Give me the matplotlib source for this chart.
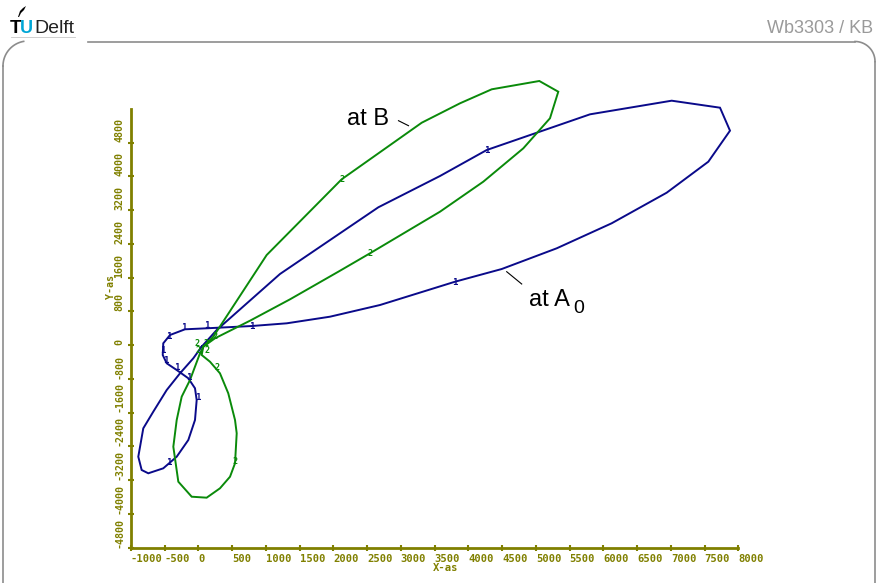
import matplotlib
matplotlib.use("Agg")
import matplotlib.pyplot as plt
import numpy as np

# ---------------- data ----------------
blue_x = [50, 273, 1210, 2667, 3581, 4273, 5803, 7013, 7729, 7877, 7556, 6939,
          6124, 5310, 4495, 3803, 2692, 1951, 1310, 791, 124, -197, -419, -519,
          -527, -468, -320, -148, -49, -24, -49, -148, -320, -519, -741, -839,
          -889, -815, -667, -468, -271, -74, 50]
blue_y = [-40, 356, 1683, 3264, 4006, 4622, 5468, 5791, 5625, 5080, 4345, 3610,
          2885, 2292, 1801, 1500, 948, 671, 514, 450, 396, 372, 237, 40,
          -237, -434, -593, -789, -1026, -1304, -1778, -2252, -2648, -2923, -3041, -2963,
          -2648, -1975, -1581, -1067, -671, -315, -40]

green_x = [74, 222, 1013, 2124, 3310, 3877, 4347, 5052, 5333, 5210, 4815, 4222,
           3581, 2544, 2074, 1359, 766, 247, 74, 50, 173, 321, 444, 544, 569,
           544, 470, 321, 124, -98, -296, -370, -320, -246, -123, 25, 74]
green_y = [-40, 197, 2133, 3928, 5269, 5729, 6061, 6258, 6004, 5374, 4662, 3871,
           3160, 2174, 1737, 1083, 576, 159, -40, -237, -396, -671, -1145, -1778, -2093,
           -2804, -3122, -3397, -3619, -3596, -3240, -2411, -1778, -1225, -830, -197, -40]

blue_tick_x = [-434, -212, 129, 795, 3803, 4277, -523, -479, -316, -138, -4, -434]
blue_tick_y = [190, 403, 474, 450, 1493, 4622, -119, -356, -545, -759, -1256, -2797]

green_tick_x = [2124, 2544, 247, 277, 544, -19, 110, -4, 125]
green_tick_y = [3928, 2174, 190, -545, -2773, 47, 47, -142, -142]

x_ticks = list(range(-1000, 8001, 500))
y_ticks = list(range(-4800, 4801, 800))
x_labels = [str(v) for v in x_ticks]
y_labels = [str(v) for v in y_ticks]

OLIVE = "#808000"
BLUE = "#0a0a8a"
GREEN = "#0a8a0a"

fig = plt.figure(figsize=(8.78, 5.83), dpi=100)

# ---------------- slide decoration (pixel coordinates) ----------------
bg = fig.add_axes([0, 0, 1, 1])
bg.set_xlim(0, 878)
bg.set_ylim(583, 0)
bg.axis("off")

FRAME = "#8c8c8c"
bg.plot([88, 855], [41.5, 41.5], color=FRAME, lw=1.2)
t = np.linspace(0, np.pi / 2, 30)
bg.plot(855 + 20 * np.cos(t), 61.5 - 20 * np.sin(t), color=FRAME, lw=1.2)
bg.plot([875, 875], [61.5, 583], color=FRAME, lw=1.2)
t2 = np.linspace(np.radians(100), np.pi, 30)
bg.plot(28 + 25 * np.cos(t2), 66 - 25 * np.sin(t2), color=FRAME, lw=1.2)
bg.plot([3, 3], [66, 583], color=FRAME, lw=1.2)

bg.text(873, 33, "Wb3303 / KB", ha="right", va="baseline", fontsize=13,
        color="#9a9a9a", family="Liberation Sans")
bg.text(9.5, 33, "T", ha="left", va="baseline", fontsize=13.5, weight="bold",
        color="black", family="Liberation Sans")
bg.text(20, 33, "U", ha="left", va="baseline", fontsize=13, weight="bold",
        color="#00a6d6", family="Liberation Sans")
bg.text(34, 33, "Delft", ha="left", va="baseline", fontsize=14,
        color="#222222", family="Liberation Sans")
bg.fill([18, 20, 23, 26, 24, 21, 19], [17, 11, 8, 6, 10, 13, 17], color="black", lw=0)
bg.plot([11, 75], [37, 37], color="#c8c8c8", lw=0.6)

bg.plot([398.5, 408.5], [120.7, 125.7], color="black", lw=0.8)
bg.plot([506.7, 521.7], [271.7, 284], color="black", lw=0.8)
bg.text(347, 125, "at B", ha="left", va="baseline", fontsize=17,
        family="Liberation Sans", color="black")
bg.text(529, 306, "at A", ha="left", va="baseline", fontsize=17,
        family="Liberation Sans", color="black")
bg.text(573, 313, "0", ha="left", va="baseline", fontsize=14,
        family="Liberation Sans", color="black")

# ---------------- chart ----------------
ax = fig.add_axes([130.8 / 878, (583 - 547.5) / 583, 607.5 / 878, 438.75 / 583])
ax.patch.set_visible(False)
ax.set_xlim(-1000, 8000)
ax.set_ylim(-4800, 5600)
for s in ("top", "right"):
    ax.spines[s].set_visible(False)
for s in ("left", "bottom"):
    ax.spines[s].set_color(OLIVE)
    ax.spines[s].set_linewidth(2)

ax.plot(blue_x, blue_y, color=BLUE, lw=1.4, clip_on=False, solid_joinstyle="miter")
ax.plot(green_x, green_y, color=GREEN, lw=1.4, clip_on=False, solid_joinstyle="miter")

for x, y in zip(blue_tick_x, blue_tick_y):
    ax.text(x, y, "1", color=BLUE, fontsize=6.5, weight="bold", ha="center",
            va="center", family="DejaVu Sans Mono", clip_on=False)
for x, y in zip(green_tick_x, green_tick_y):
    ax.text(x, y, "2", color=GREEN, fontsize=6, weight="bold", ha="center",
            va="center", family="DejaVu Sans Mono", clip_on=False)

ax.set_xticks(x_ticks)
ax.set_xticklabels(x_labels)
ax.set_yticks(y_ticks)
ax.set_yticklabels(y_labels)
ax.tick_params(axis="both", direction="inout", length=4, width=1.5, color=OLIVE,
               labelcolor=OLIVE)
ax.tick_params(axis="x", pad=3)
ax.tick_params(axis="y", pad=2.5)
for lbl in ax.get_xticklabels():
    lbl.set_ha("left")
    lbl.set_fontfamily("DejaVu Sans Mono")
    lbl.set_fontsize(7.6)
    lbl.set_fontweight("bold")
for lbl in ax.get_yticklabels():
    lbl.set_rotation(90)
    lbl.set_ha("right")
    lbl.set_va("bottom")
    lbl.set_fontfamily("DejaVu Sans Mono")
    lbl.set_fontsize(7.2)
    lbl.set_fontweight("bold")

ax.text(0.519, -0.0467, "X-as", transform=ax.transAxes, ha="center", va="center",
        color=OLIVE, fontsize=7.6, weight="bold", family="DejaVu Sans Mono")
ax.text(-0.0326, 0.5937, "Y-as", transform=ax.transAxes, ha="center", va="center",
        rotation=90, color=OLIVE, fontsize=7.2, weight="bold", family="DejaVu Sans Mono")

fig.savefig("out.png", dpi=100)
